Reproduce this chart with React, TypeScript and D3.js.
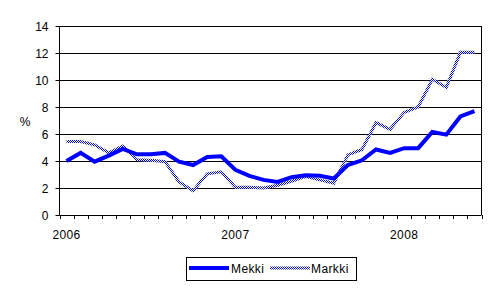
import React from "react";
import * as d3 from "d3";

const months: string[] = [];
for (let y = 2006; y <= 2008; y++) {
  for (let m = 1; m <= 12; m++) {
    if (y === 2008 && m > 6) break;
    months.push(`${y}-${String(m).padStart(2, "0")}`);
  }
}

const mekki = [4.0, 4.6, 3.95, 4.4, 4.9, 4.5, 4.5, 4.6, 3.95, 3.7, 4.3, 4.35, 3.35, 2.9, 2.6, 2.45, 2.8, 2.95, 2.9, 2.7, 3.7, 4.05, 4.85, 4.6, 4.95, 4.95, 6.15, 5.95, 7.3, 7.7];
const markki = [5.45, 5.45, 5.2, 4.6, 5.1, 4.1, 4.05, 3.95, 2.45, 1.8, 3.05, 3.2, 2.05, 2.05, 2.0, 2.2, 2.5, 2.85, 2.6, 2.35, 4.45, 4.85, 6.85, 6.35, 7.6, 8.0, 10.05, 9.45, 12.05, 12.05];
const yTicks = [0, 2, 4, 6, 8, 10, 12, 14];
const yearLabels = ["2006", "2007", "2008"];
const seriesNames = ["Mekki", "Markki"];

const FONT = "'Liberation Sans', Arial, sans-serif";
const BLUE = "#0000ff";

export default function App() {
  const left = 59.5, right = 481.5, top = 26, bottom = 215;
  const x = d3.scaleBand<string>().domain(months).range([left, right]).padding(0);
  const y = d3.scaleLinear().domain([0, 14]).range([bottom, top]);
  const cx = (i: number) => (x(months[i]) as number) + x.bandwidth() / 2;
  const line = d3.line<number>().x((_, i) => cx(i)).y((d) => y(d));
  const tickXs = months.map((m) => x(m) as number).concat([right]);

  return (
    <svg width={497} height={288} style={{ position: "absolute", left: 0, top: 0 }} fontFamily={FONT}>
      <defs>
        <pattern id="checker" width={2} height={2} patternUnits="userSpaceOnUse">
          <rect width={2} height={2} fill="#ffffff" />
          <rect x={0} y={0} width={1} height={1} fill={BLUE} />
          <rect x={1} y={1} width={1} height={1} fill={BLUE} />
        </pattern>
      </defs>
      <rect width={497} height={288} fill="#fff" />
      {yTicks.filter((t) => t > 0).map((t) => (
        <line key={t} x1={left} x2={right} y1={Math.round(y(t)) + 0.5} y2={Math.round(y(t)) + 0.5} stroke="#000" strokeWidth={1} />
      ))}
      <line x1={right} x2={right} y1={top} y2={bottom} stroke="#000" />
      <line x1={left} x2={left} y1={top} y2={bottom + 0.5} stroke="#000" />
      <line x1={left} x2={right} y1={bottom + 0.5} y2={bottom + 0.5} stroke="#000" />
      {yTicks.map((t) => (
        <g key={t}>
          <line x1={left - 4} x2={left} y1={Math.round(y(t)) + 0.5} y2={Math.round(y(t)) + 0.5} stroke="#000" />
          <text x={48.5} y={y(t) + 4.5} textAnchor="end" fontSize={12}>{t}</text>
        </g>
      ))}
      {tickXs.map((tx, i) => (
        <line key={i} x1={Math.round(tx) + 0.5} x2={Math.round(tx) + 0.5} y1={bottom} y2={bottom + 4} stroke="#000" />
      ))}
      {yearLabels.map((yl, i) => (
        <text key={yl} x={cx(i * 12)} y={238.5} textAnchor="middle" fontSize={12} letterSpacing={0.4}>{yl}</text>
      ))}
      <text x={25} y={126} textAnchor="middle" fontSize={12}>%</text>
      <path d={line(markki) || ""} fill="none" stroke="url(#checker)" strokeWidth={3} />
      <path d={line(mekki) || ""} fill="none" stroke={BLUE} strokeWidth={4} />
      <rect x={186.5} y={257.5} width={170} height={23} fill="#fff" stroke="#000" />
      <line x1={189} x2={229} y1={268} y2={268} stroke={BLUE} strokeWidth={4} />
      <text x={231} y={272.5} fontSize={12} letterSpacing={0.4}>{seriesNames[0]}</text>
      <line x1={270} x2={310} y1={268} y2={268} stroke="url(#checker)" strokeWidth={3} />
      <text x={311} y={272.5} fontSize={12} letterSpacing={0.4}>{seriesNames[1]}</text>
    </svg>
  );
}
